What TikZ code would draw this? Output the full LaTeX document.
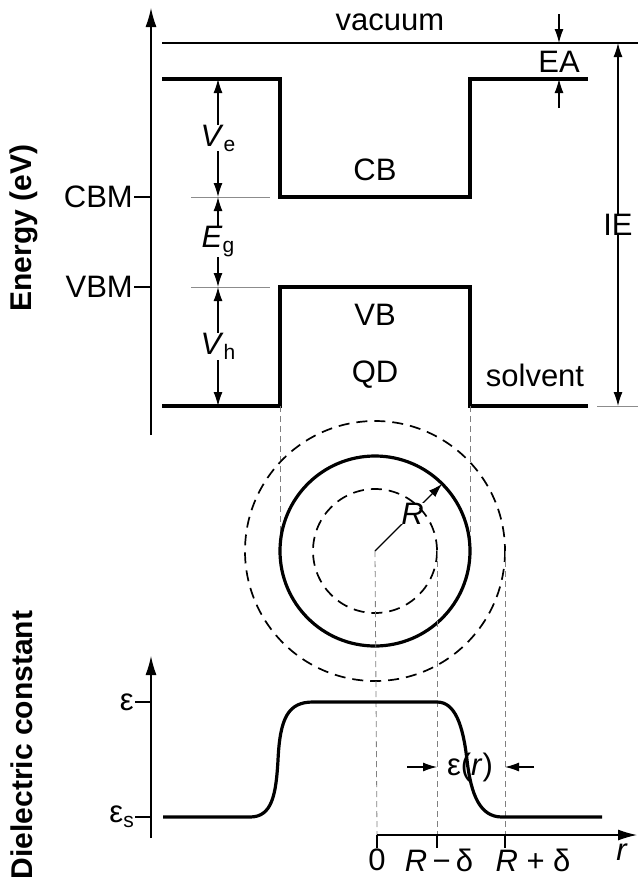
\documentclass[tikz,border=0pt]{standalone}
\usepackage{fontspec}
\setmainfont{Liberation Sans}
\usetikzlibrary{arrows.meta, calc}
\newcommand{\lowsub}[1]{\raisebox{-5pt}{\fontsize{21}{21}\selectfont #1}}
\newcommand{\dimarrow}[3]{%
  \draw[dimline] (#1) -- node[lbl, fill=white, inner sep=0pt] {#3} (#2);
}
\begin{document}
\begin{tikzpicture}[x=1pt, y=-1pt, >={Latex[length=14pt,width=9pt]},
    band/.style={line width=3.2pt, line join=miter},
    hair/.style={line width=1.2pt},
    grayline/.style={black!45, line width=0.9pt},
    guide/.style={black!50, line width=0.8pt, dash pattern=on 6pt off 4pt},
    ring/.style={line width=1.7pt, dash pattern=on 11pt off 7pt},
    dimline/.style={<->, line width=1.2pt},
    axis/.style={hair, -{Latex[length=19pt,width=11pt]}},
    lbl/.style={font=\fontsize{31}{37}\selectfont, inner sep=1pt},
    ttl/.style={font=\fontsize{30}{36}\selectfont\bfseries, rotate=90}]
  \useasboundingbox (0,0) rectangle (638,884);

  % energy diagram
  \coordinate (eO) at (151,435);
  \coordinate (eT) at (151,8);
  \draw[axis] (eO) -- (eT);
  \node[ttl] (energy) at (24,228) {Energy (eV)};

  \coordinate (vacL) at (162,43);
  \coordinate (vacR) at (638,43);
  \draw[hair] (vacL) -- (vacR);
  \node[lbl] (vac) at (390,22) {vacuum};

  \coordinate (cbL) at (162,79);
  \coordinate (cbA) at (280,79);
  \coordinate (cbB) at (280,197);
  \coordinate (cbC) at (470,197);
  \coordinate (cbD) at (470,79);
  \coordinate (cbR) at (588,79);
  \draw[band] (cbL) -- (cbA) -- (cbB) -- (cbC) -- (cbD) -- (cbR);

  \coordinate (vbL) at (162,406);
  \coordinate (vbA) at (280,406);
  \coordinate (vbB) at (280,287);
  \coordinate (vbC) at (470,287);
  \coordinate (vbD) at (470,406);
  \coordinate (vbR) at (588,406);
  \draw[band] (vbL) -- (vbA) -- (vbB) -- (vbC) -- (vbD) -- (vbR);

  \node[lbl] (cb) at (375,170) {CB};
  \node[lbl] (vb) at (375,315) {VB};
  \node[lbl] (qd) at (375,375) {QD};
  \node[lbl] (solv) at (535,375) {solvent};

  % band edges on the axis
  \node[lbl, anchor=east] (cbm) at (134,197) {CBM};
  \node[lbl, anchor=east] (vbm) at (134,287) {VBM};
  \coordinate (cbmAx) at (151,197);
  \coordinate (vbmAx) at (151,287);
  \draw[hair] (cbm.east) -- (cbmAx);
  \draw[hair] (vbm.east) -- (vbmAx);
  \coordinate (cbmG1) at (191,197);
  \coordinate (cbmG2) at (270,197);
  \coordinate (vbmG1) at (191,287);
  \coordinate (vbmG2) at (270,287);
  \draw[grayline] (cbmG1) -- (cbmG2);
  \draw[grayline] (vbmG1) -- (vbmG2);

  \coordinate (ve1) at (218,79);
  \coordinate (ve2) at (218,197);
  \coordinate (vh1) at (218,287);
  \coordinate (vh2) at (218,406);
  \dimarrow{ve1}{ve2}{\textit{V}\lowsub{e}}
  \dimarrow{ve2}{vh1}{\textit{E}\lowsub{g}}
  \dimarrow{vh1}{vh2}{\textit{V}\lowsub{h}}

  % EA and IE
  \coordinate (ea1) at (559,14);
  \coordinate (ea2) at (559,43);
  \coordinate (ea3) at (559,108);
  \coordinate (ea4) at (559,79);
  \draw[hair, ->] (ea1) -- (ea2);
  \draw[hair, ->] (ea3) -- (ea4);
  \node[lbl] (ea) at (559,62) {EA};

  \coordinate (ie1) at (618,43);
  \coordinate (ie2) at (618,406);
  \dimarrow{ie1}{ie2}{IE}
  \coordinate (ieG1) at (597,406);
  \coordinate (ieG2) at (638,406);
  \draw[grayline] (ieG1) -- (ieG2);

  % quantum dot
  \coordinate (ctr) at (375,551);
  \coordinate (qdL) at (280,551);
  \coordinate (qdR) at (470,551);
  \coordinate (inR) at (437,551);
  \coordinate (outR) at (505,551);
  \draw[guide] (vbA) -- (qdL);
  \draw[guide] (vbD) -- (qdR);
  \draw[line width=3.2pt] (ctr) circle[radius=95];
  \draw[hair, ->] (ctr) -- node[lbl, fill=white, inner sep=0pt, pos=0.56] {\textit{R}} ($(ctr)+(-45:95)$);
  \draw[ring] (ctr) circle[radius=62];
  \draw[ring] (ctr) circle[radius=130];

  % dielectric profile
  \coordinate (dO) at (151,838);
  \coordinate (dT) at (151,656);
  \draw[axis] (dO) -- (dT);
  \node[ttl] (diel) at (22,745) {Dielectric constant};
  \node[lbl, anchor=east] (epsq) at (135,702) {ε};
  \node[lbl, anchor=east] (epss) at (135,817) {ε\lowsub{s}};
  \coordinate (epsqAx) at (151,702);
  \coordinate (epssAx) at (151,817);
  \draw[hair] (epsq.east) -- (epsqAx);
  \draw[hair] (epss.east) -- (epssAx);

  \coordinate (rO) at (377,835);
  \coordinate (rT) at (637,835);
  \coordinate (rM) at (437,835);
  \coordinate (rP) at (505,835);
  \coordinate (tO) at (377,848);
  \coordinate (tM) at (437,848);
  \coordinate (tP) at (505,848);
  \draw[guide] (ctr) -- (rO);
  \draw[guide] (inR) -- (rM);
  \draw[guide] (outR) -- (rP);
  \draw[axis] (rO) -- (rT);
  \draw[hair] (rO) -- (tO);
  \draw[hair] (rM) -- (tM);
  \draw[hair] (rP) -- (tP);
  \node[lbl, anchor=north] (l0) at (tO) {0};
  \node[lbl, anchor=north] (lM) at (439,848) {\textit{R}\,−\,δ};
  \node[lbl, anchor=north] (lP) at (533,848) {\textit{R} + δ};
  \node[lbl] (lr) at (622,852) {\textit{r}};

  \draw[band] (163,817) -- (250,817)
    .. controls (272,817) and (276,795) .. (278,760)
    .. controls (280,718) and (288,702) .. (313,702) -- (437,702)
    .. controls (455,702) and (463,725) .. (467,760)
    .. controls (471,795) and (480,817) .. (502,817) -- (602,817);

  \node[lbl] (epsr) at (470,767) {ε(\textit{r})};
  \coordinate (ar1) at (407,767);
  \coordinate (ar2) at (534,767);
  \draw[hair, ->] (ar1) -- (rM |- ar1);
  \draw[hair, ->] (ar2) -- (rP |- ar2);
\end{tikzpicture}
\end{document}
